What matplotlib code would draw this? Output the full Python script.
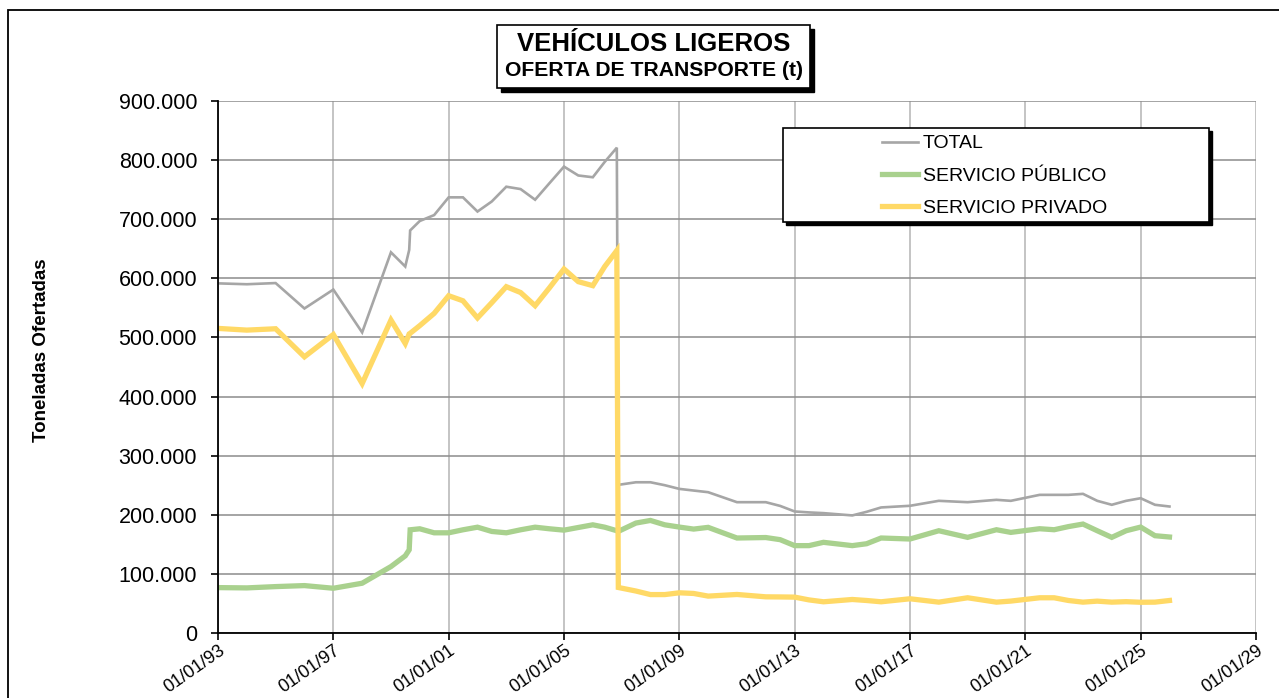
import matplotlib
matplotlib.use("Agg")
import matplotlib.pyplot as plt
import matplotlib.dates as mdates
from matplotlib.patches import Rectangle
from matplotlib.ticker import FuncFormatter, MultipleLocator
import pandas as pd

plt.rcParams['font.family'] = ['Liberation Sans', 'DejaVu Sans']

# Observation dates
fechas = [
    "1993-01-01", "1994-01-01", "1995-01-01", "1996-01-01", "1997-01-01",
    "1998-01-01", "1999-01-01", "1999-07-01", "1999-08-20", "1999-09-01",
    "2000-01-01", "2000-07-01", "2001-01-01", "2001-07-01", "2002-01-01",
    "2002-07-01", "2003-01-01", "2003-07-01", "2004-01-01", "2004-07-01",
    "2005-01-01", "2005-07-01", "2006-01-01", "2006-06-01", "2006-11-01",
    "2006-11-20", "2007-07-01", "2008-01-01", "2008-07-01", "2009-01-01",
    "2009-07-01", "2010-01-01", "2011-01-01", "2012-01-01", "2012-07-01",
    "2013-01-01", "2013-07-01", "2014-01-01", "2015-01-01", "2015-07-01",
    "2016-01-01", "2017-01-01", "2018-01-01", "2019-01-01", "2020-01-01",
    "2020-07-01", "2021-07-01", "2022-01-01", "2022-07-01", "2023-01-01",
    "2023-07-01", "2024-01-01", "2024-07-01", "2025-01-01", "2025-07-01",
    "2026-01-01",
]

# Tonnes offered (thousands)
total = [
    591.5, 590.0, 592.0, 549.0, 581.0,
    508.5, 644.0, 620.0, 648.0, 681.0,
    697.0, 707.0, 737.0, 737.0, 713.0,
    730.0, 755.0, 751.0, 733.0, 761.0,
    789.0, 774.0, 771.0, 797.0, 821.0,
    250.6, 255.0, 255.0, 250.0, 243.8,
    241.0, 238.2, 221.3, 221.3, 215.0,
    205.6, 204.0, 202.8, 198.9, 205.0,
    212.4, 215.2, 223.6, 221.3, 225.3,
    223.6, 233.7, 233.7, 233.7, 235.4,
    223.6, 216.9, 223.6, 228.0, 216.9,
    214.0,
]
publico = [
    76.8, 76.3, 78.5, 80.2, 75.7,
    84.2, 112.4, 130.5, 140.7, 174.6,
    176.3, 169.5, 169.5, 174.6, 179.0,
    171.8, 169.5, 174.6, 179.0, 176.3,
    174.0, 178.5, 183.0, 179.0, 173.0,
    171.9, 186.0, 190.4, 183.0, 179.2,
    175.8, 178.7, 160.7, 161.5, 157.9,
    147.8, 147.8, 153.4, 147.8, 151.0,
    160.7, 159.0, 173.0, 161.8, 174.7,
    170.2, 176.4, 174.7, 180.0, 184.3,
    173.0, 161.8, 173.0, 179.2, 164.6,
    162.4,
]
privado = [
    515.3, 512.4, 514.7, 467.2, 505.0,
    422.0, 529.4, 489.8, 506.0, 507.0,
    520.0, 540.7, 570.6, 562.0, 533.0,
    558.8, 585.9, 576.0, 553.7, 584.0,
    615.8, 594.4, 587.6, 620.0, 647.0,
    77.0, 71.0, 65.0, 65.0, 68.0,
    66.9, 62.4, 65.2, 61.2, 61.0,
    60.7, 56.0, 52.8, 56.7, 55.0,
    52.8, 57.9, 52.2, 59.6, 52.2,
    54.0, 59.6, 59.6, 55.0, 52.2,
    53.9, 52.2, 53.0, 52.0, 52.2,
    55.0,
]

series_names = ["TOTAL", "SERVICIO PÚBLICO", "SERVICIO PRIVADO"]
x_tick_years = list(range(1993, 2030, 4))

W, H = 1279, 698
fig = plt.figure(figsize=(W / 100, H / 100), dpi=100)


def fx(px):
    return px / W


def fy(py):
    return 1 - py / H


# outer chart frame
fig.patches.append(Rectangle((fx(8), fy(1000)), 1.2, fy(10) - fy(1000),
                             transform=fig.transFigure, fill=False,
                             edgecolor='black', linewidth=1.3))

ax = fig.add_axes([fx(218), fy(633), fx(1256) - fx(218), fy(101) - fy(633)])

d = pd.to_datetime(fechas)
to_t = lambda vals: [v * 1000 for v in vals]
l1, = ax.plot(d, to_t(total), color='#a6a6a6', lw=1.9, label=series_names[0],
              solid_joinstyle='miter', zorder=3)
l2, = ax.plot(d, to_t(publico), color='#a9d18e', lw=3.8, label=series_names[1],
              solid_joinstyle='miter', zorder=4)
l3, = ax.plot(d, to_t(privado), color='#ffd966', lw=3.8, label=series_names[2],
              solid_joinstyle='miter', zorder=5)

ax.set_ylim(0, 900000)
ax.yaxis.set_major_locator(MultipleLocator(100000))
ax.yaxis.set_major_formatter(FuncFormatter(
    lambda v, p: "0" if v == 0 else f"{v:,.0f}".replace(",", ".")))

ax.set_xlim(pd.Timestamp("1993-01-01"), pd.Timestamp("2029-01-01"))
ax.set_xticks([pd.Timestamp(f"{y}-01-01") for y in x_tick_years])
ax.xaxis.set_major_formatter(mdates.DateFormatter("%d/%m/%y"))

ax.grid(axis='y', color='#8c8c8c', lw=1.1, zorder=1)
ax.grid(axis='x', color='#b4b4b4', lw=1.1, zorder=1)
ax.set_axisbelow(True)
for s in ['top', 'right']:
    ax.spines[s].set_visible(False)
for s in ['left', 'bottom']:
    ax.spines[s].set_color('black')
    ax.spines[s].set_linewidth(1.3)
    ax.spines[s].set_zorder(6)

ax.tick_params(axis='y', labelsize=15.5, length=5, width=1.2, pad=10, colors='black')
ax.tick_params(axis='x', labelsize=13, length=5, width=1.2, pad=1.5, colors='black')
for lab in ax.get_xticklabels():
    lab.set_rotation(35)
    lab.set_ha('right')
    lab.set_rotation_mode('anchor')

fig.text(fx(42), fy(350), "Toneladas Ofertadas", rotation=90, ha='center',
         va='center', fontsize=13.5, fontweight='bold')

# title box with shadow
bx0, by0, bx1, by1 = 497, 25, 810, 88
fig.patches.append(Rectangle((fx(bx0 + 4), fy(by1 + 4)), fx(bx1) - fx(bx0),
                             fy(by0) - fy(by1), transform=fig.transFigure,
                             facecolor='black', edgecolor='black', zorder=1))
fig.patches.append(Rectangle((fx(bx0), fy(by1)), fx(bx1) - fx(bx0),
                             fy(by0) - fy(by1), transform=fig.transFigure,
                             facecolor='white', edgecolor='black', lw=1.2, zorder=2))
fig.text(fx(654), fy(44), "VEHÍCULOS LIGEROS", ha='center', va='center',
         fontsize=18.5, fontweight='bold', zorder=3)
fig.text(fx(654), fy(70), "OFERTA DE TRANSPORTE (t)", ha='center', va='center',
         fontsize=15.2, fontweight='bold', zorder=3)

# legend box with shadow
lx0, ly0, lx1, ly1 = 783, 128, 1209, 222
fig.patches.append(Rectangle((fx(lx0 + 3), fy(ly1 + 3)), fx(lx1) - fx(lx0),
                             fy(ly0) - fy(ly1), transform=fig.transFigure,
                             facecolor='black', edgecolor='black', zorder=7))
fig.patches.append(Rectangle((fx(lx0), fy(ly1)), fx(lx1) - fx(lx0),
                             fy(ly0) - fy(ly1), transform=fig.transFigure,
                             facecolor='white', edgecolor='black', lw=1.2, zorder=8))
leg = fig.legend(handles=[l1, l2, l3], loc='upper left',
                 bbox_to_anchor=(fx(874), fy(127)), frameon=False,
                 fontsize=14, handlelength=1.85, handletextpad=0.25,
                 labelspacing=0.75, borderaxespad=0)
leg.set_zorder(9)

fig.savefig("out.png", dpi=100)
